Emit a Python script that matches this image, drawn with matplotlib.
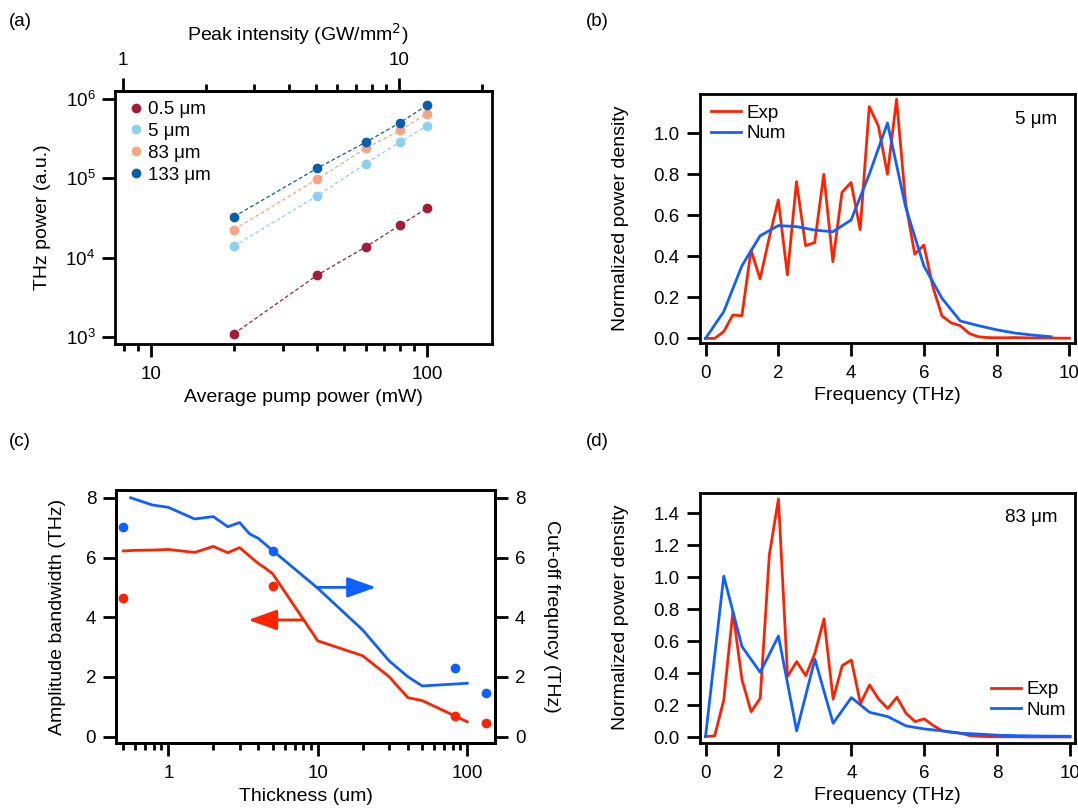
import matplotlib
matplotlib.use("Agg")
import matplotlib.pyplot as plt
from matplotlib.ticker import FuncFormatter, NullFormatter, NullLocator, MultipleLocator

plt.rcParams["font.family"] = ["Liberation Sans", "DejaVu Sans"]
plt.rcParams["font.size"] = 13.5

# ---- (a) THz power vs pump power ----
pump_mW = [20, 40, 60, 80, 100]
power_05um = [1100, 5990, 13600, 25700, 41700]
power_5um = [14000, 59700, 152000, 288000, 454000]
power_83um = [22500, 96900, 238000, 401000, 649000]
power_133um = [32700, 133000, 283000, 500000, 828000]
series_labels = ["0.5 μm", "5 μm", "83 μm", "133 μm"]
series_colors = ["#a31d3b", "#8ed1ee", "#f4a683", "#0a5eaa"]
mw_per_gw = 7.9  # pump power (mW) giving 1 GW/mm^2 peak intensity

# ---- (b) spectra, 5 um ----
f_exp = [0.0, 0.25, 0.5, 0.75, 1.0, 1.25, 1.5, 1.75, 2.0, 2.25, 2.5, 2.75, 3.0, 3.25,
         3.5, 3.75, 4.0, 4.25, 4.5, 4.75, 5.0, 5.25, 5.5, 5.75, 6.0, 6.25, 6.5, 6.75,
         7.0, 7.25, 7.5, 7.75, 8.0, 8.25, 8.5, 8.75, 9.0, 9.25, 9.5, 9.75, 10.0]
exp_5um = [0.0, 0.0, 0.033, 0.114, 0.11, 0.43, 0.29, 0.49, 0.675, 0.31, 0.764, 0.452,
           0.467, 0.80, 0.374, 0.712, 0.76, 0.53, 1.13, 1.036, 0.80, 1.166, 0.66, 0.41,
           0.455, 0.25, 0.109, 0.076, 0.062, 0.024, 0.008, 0.004, 0.003, 0.003, 0.004,
           0.003, 0.002, 0.002, 0.002, 0.001, 0.001]
f_num_5um = [0.0, 0.5, 1.0, 1.5, 2.0, 2.5, 3.0, 3.5, 4.0, 4.5, 5.0, 5.5, 6.0, 6.5,
             7.0, 7.5, 8.0, 8.5, 9.0, 9.5]
num_5um = [0.0, 0.13, 0.354, 0.50, 0.55, 0.545, 0.528, 0.52, 0.577, 0.80, 1.05, 0.64,
           0.354, 0.195, 0.085, 0.062, 0.042, 0.026, 0.016, 0.008]

# ---- (c) bandwidth vs thickness ----
thick_bw = [0.5, 0.6, 0.8, 1, 1.5, 2, 2.5, 3, 4, 4.5, 5, 10, 20, 30, 40, 50, 100]
bandwidth = [6.22, 6.24, 6.25, 6.27, 6.17, 6.37, 6.16, 6.33, 5.80, 5.63, 5.45, 3.21,
             2.71, 2.01, 1.31, 1.21, 0.50]
thick_cut = [0.56, 0.78, 1, 1.5, 2, 2.5, 3, 3.5, 4, 5, 10, 20, 30, 40, 50, 100]
cutoff = [8.0, 7.76, 7.68, 7.29, 7.37, 7.03, 7.17, 6.79, 6.64, 6.23, 4.97, 3.57, 2.54,
          2.01, 1.70, 1.79]
thick_meas = [0.5, 5, 83, 133]
bandwidth_meas = [4.65, 5.06, 0.70, 0.47]
cutoff_meas = [7.03, 6.23, 2.31, 1.47]

# ---- (d) spectra, 83 um ----
exp_83um = [0.005, 0.008, 0.233, 0.785, 0.36, 0.16, 0.244, 1.14, 1.49, 0.38, 0.473,
            0.385, 0.525, 0.74, 0.238, 0.448, 0.483, 0.21, 0.327, 0.238, 0.18, 0.25,
            0.15, 0.098, 0.115, 0.073, 0.04, 0.031, 0.025, 0.01, 0.006, 0.004, 0.003,
            0.003, 0.003, 0.002, 0.002, 0.002, 0.002, 0.002, 0.002]
f_num_83um = [0.0, 0.5, 1.0, 1.5, 2.0, 2.5, 3.0, 3.5, 4.0, 4.5, 5.0, 5.5, 6.0, 6.5,
              7.0, 7.5, 8.0, 8.5, 9.0, 9.5, 10.0]
num_83um = [0.004, 1.008, 0.567, 0.406, 0.633, 0.04, 0.488, 0.0875, 0.248, 0.156,
            0.129, 0.071, 0.052, 0.04, 0.025, 0.02, 0.013, 0.01, 0.008, 0.007, 0.006]

RED = "#ff2200"
BLUE = "#1060ff"
LW = 2.0
LABEL_FS = 14
W, H = 1078, 811


def box(left, top, right, bottom):
    return [left / W, 1 - bottom / H, (right - left) / W, (bottom - top) / H]


def style(ax, xpad=6.5, ypad=5):
    for sp in ax.spines.values():
        sp.set_linewidth(2.0)
    ax.tick_params(which="both", direction="out", width=2.0, labelsize=13.5)
    ax.tick_params(axis="x", pad=xpad)
    ax.tick_params(axis="y", pad=ypad)
    ax.tick_params(which="major", length=9.4)
    ax.tick_params(which="minor", length=4.8)


plain = FuncFormatter(lambda v, p: f"{v:g}")

fig = plt.figure(figsize=(W / 100, H / 100), dpi=100)

# (a)
ax_a = fig.add_axes(box(115.3, 91, 492, 344))
for ys, lab, col in zip([power_05um, power_5um, power_83um, power_133um],
                        series_labels, series_colors):
    ax_a.plot(pump_mW, ys, ls=(0, (3, 2)), lw=0.9, color=col)
    ax_a.plot(pump_mW, ys, "o", ms=6, color=col, label=lab)
ax_a.set_xscale("log")
ax_a.set_yscale("log")
ax_a.set_xlim(7.43, 172)
ax_a.set_ylim(816, 1.25e6)
ax_a.xaxis.set_major_formatter(plain)
ax_a.xaxis.set_minor_formatter(NullFormatter())
ax_a.yaxis.set_minor_locator(NullLocator())
style(ax_a)
ax_a.set_xlabel("Average pump power (mW)", fontsize=LABEL_FS)
ax_a.xaxis.set_label_coords(0.5, -0.178)
ax_a.set_ylabel("THz power (a.u.)", fontsize=LABEL_FS)
ax_a.yaxis.set_label_coords(-0.171, 0.5)
top = ax_a.secondary_xaxis("top", functions=(lambda x: x / mw_per_gw,
                                             lambda x: x * mw_per_gw))
top.xaxis.set_major_formatter(plain)
top.xaxis.set_minor_formatter(NullFormatter())
top.spines["top"].set_linewidth(2.0)
top.tick_params(which="both", direction="out", width=2.0, pad=6.5, labelsize=13.5)
top.tick_params(which="major", length=9.4)
top.tick_params(which="minor", length=4.8)
top.set_xlabel("Peak intensity (GW/mm$^2$)", fontsize=LABEL_FS)
top.xaxis.set_label_coords(0.485, 1.198, transform=ax_a.transAxes)
ax_a.legend(loc="upper left", bbox_to_anchor=(0.043, 0.960), frameon=False,
            borderpad=0, borderaxespad=0, handlelength=0.5, handletextpad=0.4,
            labelspacing=0.25, fontsize=13.5)


def spectrum(ax_box, f_num, exp, num, label, legend_loc, anchor, ylim):
    ax = fig.add_axes(ax_box)
    ax.plot(f_exp, exp, color=RED, lw=LW, label="Exp")
    ax.plot(f_num, num, color=BLUE, lw=LW, label="Num")
    ax.set_xlim(-0.16, 10.14)
    ax.set_ylim(*ylim)
    ax.xaxis.set_major_locator(MultipleLocator(2))
    ax.yaxis.set_major_locator(MultipleLocator(0.2))
    ax.yaxis.set_major_formatter(FuncFormatter(lambda v, p: f"{v:.1f}"))
    style(ax)
    ax.set_xlabel("Frequency (THz)", fontsize=LABEL_FS)
    ax.xaxis.set_label_coords(0.5, -0.178)
    ax.set_ylabel("Normalized power density", fontsize=LABEL_FS)
    ax.yaxis.set_label_coords(-0.189, 0.5)
    ax.text(0.953, 0.90, label, transform=ax.transAxes,
            ha="right", va="center", fontsize=13.5)
    ax.legend(loc=legend_loc, bbox_to_anchor=anchor, frameon=False, borderpad=0,
              borderaxespad=0, handlelength=1.6, handletextpad=0.3,
              labelspacing=0.2, fontsize=13.5)
    return ax


# (b)
spectrum(box(699.7, 94.3, 1074.5, 342.7), f_num_5um, exp_5um, num_5um, "5 μm",
         "upper left", (0.031, 0.959), (-0.021, 1.19))
# (d)
spectrum(box(699.7, 492.7, 1075.2, 742.7), f_num_83um, exp_83um, num_83um, "83 μm",
         "lower right", (0.975, 0.095), (-0.034, 1.529))

# (c)
ax_c = fig.add_axes(box(116.2, 490, 494.8, 743.3))
ax_c.plot(thick_bw, bandwidth, color=RED, lw=LW)
ax_c.plot(thick_meas, bandwidth_meas, "o", ms=6, color=RED)
ax_c.set_xscale("log")
ax_c.set_xlim(0.448, 152.8)
ax_c.set_ylim(-0.22, 8.26)
ax_c.yaxis.set_major_locator(MultipleLocator(2))
ax_c.xaxis.set_major_formatter(plain)
ax_c.xaxis.set_minor_formatter(NullFormatter())
style(ax_c)
ax_c.set_xlabel("Thickness (um)", fontsize=LABEL_FS)
ax_c.xaxis.set_label_coords(0.5, -0.176)
ax_c.set_ylabel("Amplitude bandwidth (THz)", fontsize=LABEL_FS)
ax_c.yaxis.set_label_coords(-0.132, 0.5)
ax_r = ax_c.twinx()
ax_r.plot(thick_cut, cutoff, color=BLUE, lw=LW)
ax_r.plot(thick_meas, cutoff_meas, "o", ms=6, color=BLUE)
ax_r.set_ylim(-0.22, 8.26)
ax_r.yaxis.set_major_locator(MultipleLocator(2))
style(ax_r)
ax_r.set_ylabel("Cut-off frequncy (THz)", rotation=270, va="bottom", fontsize=LABEL_FS)
ax_r.yaxis.set_label_coords(1.1265, 0.5)
arrow = dict(arrowstyle="-|>,head_length=0.7,head_width=0.25", color=BLUE,
             lw=LW, mutation_scale=25, shrinkA=0, shrinkB=0)
ax_r.annotate("", xy=(24.5, 5.0), xytext=(9.9, 5.0), arrowprops=arrow)
arrow_red = dict(arrow, color=RED)
ax_c.annotate("", xy=(3.43, 3.91), xytext=(8.0, 3.91), arrowprops=arrow_red)

for lab, x, y in [("(a)", 9, 22), ("(b)", 586, 22), ("(c)", 9, 441), ("(d)", 586, 441)]:
    fig.text(x / W, 1 - y / H, lab, va="center", ha="left", fontsize=13.5)

fig.savefig("out.png", dpi=100)
